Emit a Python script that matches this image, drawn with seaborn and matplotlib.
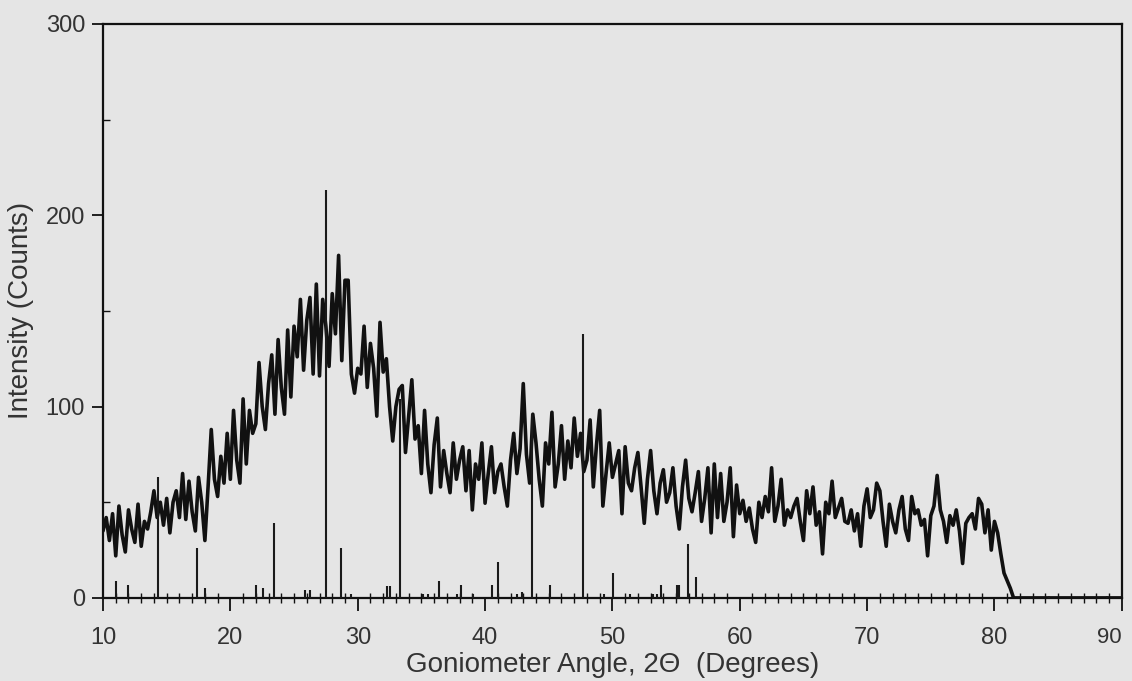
import numpy as np
import pandas as pd
import matplotlib
matplotlib.use("Agg")
import matplotlib.pyplot as plt
import seaborn as sns
from matplotlib.ticker import MultipleLocator
from matplotlib import font_manager

# ---- data ----
angle_start = 10.0
angle_step = 0.25
counts = [
    35, 42, 30, 44, 22, 48, 33, 24, 46, 36, 29, 49, 27, 40, 36, 45, 56, 42, 50, 38,
    52, 34, 50, 56, 42, 65, 41, 61, 45, 35, 63, 50, 30, 58, 88, 62, 53, 74, 60, 86,
    62, 98, 72, 60, 104, 70, 98, 86, 91, 123, 100, 88, 112, 127, 96, 135, 110, 96, 140, 105,
    142, 126, 156, 119, 145, 157, 117, 164, 116, 156, 142, 121, 159, 138, 179, 124, 166, 166, 117, 107,
    120, 117, 142, 110, 133, 120, 95, 144, 118, 125, 100, 82, 100, 109, 111, 76, 95, 114, 83, 90,
    65, 98, 70, 55, 80, 94, 58, 77, 65, 55, 81, 62, 72, 79, 56, 77, 46, 70, 62, 81,
    49.5, 65, 79, 55, 66, 70, 58, 48, 72, 86, 65, 78, 112, 75, 60, 96, 81, 62, 48, 81,
    70, 97, 58, 70, 90, 62, 82, 68, 94, 74, 86, 66, 72, 93, 58, 80, 98, 48, 65, 81,
    63, 70, 77, 44, 79, 60, 56, 68, 76, 58, 39, 62, 77, 56, 44, 60, 67, 50, 55, 68,
    48, 36, 58, 72, 52, 45, 55, 66, 40, 52, 68, 34, 70, 42, 65, 40, 50, 68, 32, 59,
    44, 51, 40, 47, 36, 29, 50, 42, 53, 45, 68, 40, 48, 62, 38, 46, 42, 48, 52, 40,
    30, 56, 44, 58, 38, 45, 23, 50, 44, 61, 42, 47, 52, 40, 39, 46, 35, 44, 27, 48,
    57, 42, 46, 60, 56, 40, 27, 49, 40, 34, 46, 53, 36, 30, 53, 44, 46, 38, 41, 22,
    43, 48, 64, 46, 40, 29, 43, 38, 46, 35, 18, 39, 42, 44, 36, 52, 49, 34, 46, 25,
    40, 34, 23, 13, 9, 5, 0,
    0, 0, 0, 0, 0, 0, 0, 0, 0, 0, 0, 0, 0, 0, 0, 0, 0,
    0, 0, 0, 0, 0, 0, 0, 0, 0, 0, 0, 0, 0, 0, 0, 0, 0, 0,
]

stick_angles = [11.0, 11.96, 14.34, 17.38, 18.0, 22.0, 22.54, 23.42, 25.86, 26.25,
                27.5, 28.66, 29.5, 32.3, 32.55, 33.3, 35.09, 35.49, 36.37, 37.79,
                38.1, 39.04, 40.53, 41.0, 42.5, 42.9, 43.67, 45.09, 47.68, 49.33,
                50.03, 51.37, 53.17, 53.49, 53.8, 55.05, 55.2, 55.9, 56.6, 84.25, 88.86]
stick_heights = [9, 7, 63, 26, 5, 7, 5, 39, 4, 4,
                 213, 26, 2, 6, 6, 104, 2, 2, 9, 2,
                 7, 2, 7, 19, 2, 3, 96, 7, 138, 2,
                 13, 2, 2, 2, 7, 7, 7, 28, 11, 1, 1]

x_ticks = [10, 20, 30, 40, 50, 60, 70, 80, 90]
y_ticks = [0, 100, 200, 300]
x_label = "Goniometer Angle, 2\u0398  (Degrees)"
y_label = "Intensity (Counts)"

# ---- build frame ----
angles = [angle_start + angle_step * i for i in range(len(counts))]
df = pd.DataFrame({"angle": angles, "counts": counts})

bg = "#e5e5e5"
sns.set_theme(style="white")
plt.rcParams["font.family"] = ["Liberation Sans", "DejaVu Sans"]

installed = {f.name for f in font_manager.fontManager.ttflist}
narrow = "Liberation Sans Narrow" in installed

fig = plt.figure(figsize=(11.32, 6.81), dpi=100, facecolor=bg)
ax = fig.add_axes([0.091, 0.122, 0.9, 0.843])
ax.set_facecolor(bg)

ax.vlines(stick_angles, 0, stick_heights, color="#1a1a1a", linewidth=1.5, zorder=3)
sns.lineplot(data=df, x="angle", y="counts", ax=ax, color="#111111",
             linewidth=2.6, estimator=None, sort=False, zorder=2)

ax.set_xlim(10, 90)
ax.set_ylim(0, 300)
ax.set_xticks(x_ticks)
ax.set_yticks(y_ticks)
ax.xaxis.set_minor_locator(MultipleLocator(1))
ax.yaxis.set_minor_locator(MultipleLocator(50))

for s in ax.spines.values():
    s.set_visible(True)
    s.set_color("#111111")
    s.set_linewidth(1.6)

ax.tick_params(axis="x", which="major", direction="out", length=9, width=1.3,
               color="#111111", labelsize=17, labelcolor="#333333", pad=12, bottom=True)
ax.tick_params(axis="x", which="minor", direction="inout", length=7, width=1.0,
               color="#111111", bottom=True)
ax.tick_params(axis="y", which="major", direction="out", length=8, width=1.3,
               color="#111111", labelsize=17, labelcolor="#333333", pad=5, left=True)
ax.tick_params(axis="y", which="minor", direction="in", length=5, width=1.0,
               color="#111111", left=True)

if narrow:
    for lab in ax.get_xticklabels() + ax.get_yticklabels():
        lab.set_family(["Liberation Sans Narrow", "Liberation Sans"])
        lab.set_fontsize(19)
xl = ax.get_xticklabels()
xl[-1].set_horizontalalignment("right")
xl[-1].set_x(90)
ax.set_xticks(x_ticks)
ax.set_xticklabels([str(t) for t in x_ticks])
labs = ax.get_xticklabels()
for lab in labs:
    if narrow:
        lab.set_family(["Liberation Sans Narrow", "Liberation Sans"])
        lab.set_fontsize(19)
labs[-1].set_horizontalalignment("center" if narrow else "right")
if not narrow:
    labs[-1].set_fontsize(16)

ax.set_xlabel(x_label, fontsize=20, color="#333333", labelpad=2)
ax.set_ylabel(y_label, fontsize=20, color="#333333", labelpad=8)

fig.savefig("out.png", dpi=100, facecolor=bg)
